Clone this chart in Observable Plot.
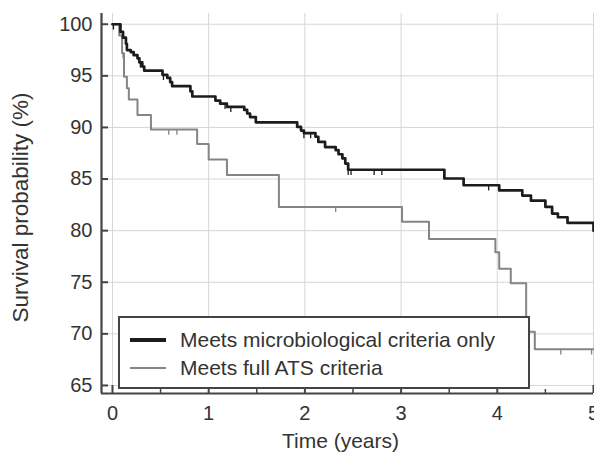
<!DOCTYPE html>
<html>
<head>
<meta charset="utf-8">
<script src="https://cdn.jsdelivr.net/npm/d3@7"></script>
<script src="https://cdn.jsdelivr.net/npm/@observablehq/plot@0.6"></script>
<style>
  body { margin: 0; background: #fff; }
  #wrap { position: relative; width: 594px; height: 457px; overflow: hidden; background: #fff; }
  #legend { position: absolute; left: 118px; top: 316px; width: 408px; height: 69px; border: 2px solid #444;
    background: #fff; font-family: "Liberation Sans", Arial, sans-serif; font-size: 21px; color: #333; }
  .row { position: absolute; left: 0; height: 26px; display: flex; align-items: center; }
  .sw { display: inline-block; width: 36px; margin-left: 10px; margin-right: 14px; }
</style>
</head>
<body>
<div id="wrap"></div>
<script>
// Kaplan–Meier step data (time in years, survival %)
const microTime = [0, 0.083, 0.11, 0.14, 0.15, 0.19, 0.22, 0.26, 0.28, 0.31, 0.33, 0.52, 0.57, 0.60, 0.62, 0.81, 0.83, 1.07, 1.12, 1.19, 1.37, 1.40, 1.43, 1.49, 1.92, 1.96, 1.99, 2.11, 2.14, 2.21, 2.32, 2.35, 2.39, 2.42, 2.45, 3.45, 3.65, 4.02, 4.26, 4.35, 4.50, 4.57, 4.63, 4.73, 5.0];
const microSurv = [100, 99.25, 98.7, 98.1, 97.5, 97.3, 97.0, 96.7, 96.3, 95.9, 95.5, 95.1, 94.8, 94.4, 94.0, 93.5, 93.0, 92.6, 92.3, 92.0, 91.7, 91.35, 91.0, 90.5, 90.05, 89.7, 89.45, 89.1, 88.6, 88.1, 87.8, 87.4, 87.0, 86.5, 85.9, 85.05, 84.4, 83.9, 83.4, 82.9, 82.3, 81.65, 81.3, 80.75, 80.0];
const microCensor = [0.01, 0.29, 0.53, 1.17, 1.23, 1.99, 2.06, 2.45, 2.48, 2.72, 2.80, 3.91];

const atsTime = [0, 0.07, 0.10, 0.12, 0.15, 0.17, 0.26, 0.40, 0.88, 1.00, 1.19, 1.73, 3.01, 3.29, 3.98, 4.02, 4.14, 4.30, 4.33, 4.39, 5.0];
const atsSurv = [100, 98.9, 97.2, 94.9, 93.8, 92.7, 91.2, 89.8, 88.4, 86.9, 85.4, 82.3, 80.85, 79.2, 77.9, 76.3, 74.9, 71.6, 70.2, 68.5, 68.5];
const atsCensor = [0.01, 0.11, 0.585, 0.67, 2.32, 4.66, 4.98];

const seriesNames = ["Meets microbiological criteria only", "Meets full ATS criteria"];
const xTicks = [0, 1, 2, 3, 4, 5];
const xMinorTicks = [0.5, 1.5, 2.5, 3.5, 4.5];
const yTicks = [65, 70, 75, 80, 85, 90, 95, 100];
const xTitle = "Time (years)";
const yTitle = "Survival probability (%)";

const xDomain = [-0.114, 5.0];
const yDomain = [64.22, 101.04];

const microColor = "#1c1c1c";
const atsColor = "#858585";

const micro = microTime.map((t, i) => ({t, s: microSurv[i]}));
const ats = atsTime.map((t, i) => ({t, s: atsSurv[i]}));
function survAt(times, surv, t) {
  const i = d3.bisectRight(times, t) - 1;
  return surv[Math.max(0, i)];
}
const microC = microCensor.map(t => ({t, s: survAt(microTime, microSurv, t)}));
const atsC = atsCensor.map(t => ({t, s: survAt(atsTime, atsSurv, t)}));

const font = "'Liberation Sans', Arial, sans-serif";

const chart = Plot.plot({
  width: 594,
  height: 457,
  marginLeft: 101,
  marginRight: 1,
  marginTop: 13,
  marginBottom: 64,
  style: {fontFamily: font, fontSize: "20px", color: "#333", background: "#fff"},
  x: {domain: xDomain},
  y: {domain: yDomain},
  marks: [
    Plot.gridX(xTicks, {stroke: "#d6d6d6", strokeOpacity: 1, strokeWidth: 1}),
    Plot.gridY(yTicks, {stroke: "#d6d6d6", strokeOpacity: 1, strokeWidth: 1}),
    Plot.axisX(xTicks, {tickSize: -8, tickPadding: 20, stroke: "#444", strokeWidth: 2, fill: "#333", label: null, fontSize: 20}),
    Plot.axisX(xMinorTicks, {tickSize: -4, tickFormat: () => "", stroke: "#444", strokeWidth: 1.5, label: null}),
    Plot.axisY(yTicks, {tickSize: -7, tickPadding: 16, stroke: "#444", strokeWidth: 2, fill: "#333", label: null, fontSize: 20}),
    Plot.ruleX([xDomain[0]], {stroke: "#444", strokeWidth: 2.2}),
    Plot.ruleY([yDomain[0]], {stroke: "#444", strokeWidth: 2.2}),
    Plot.line(ats, {x: "t", y: "s", curve: "step-after", stroke: atsColor, strokeWidth: 2}),
    Plot.ruleX(atsC, {x: "t", y1: "s", y2: d => d.s - 0.55, stroke: atsColor, strokeWidth: 1.3}),
    Plot.line(micro, {x: "t", y: "s", curve: "step-after", stroke: microColor, strokeWidth: 2.7}),
    Plot.ruleX(microC, {x: "t", y1: "s", y2: d => d.s - 0.55, stroke: microColor, strokeWidth: 1.3}),
    Plot.text([xTitle], {frameAnchor: "bottom", textAnchor: "middle", lineAnchor: "middle", dx: -7, dy: 48, fontSize: 21, fill: "#333"}),
    Plot.text([yTitle], {frameAnchor: "left", textAnchor: "middle", lineAnchor: "middle", dx: -81, dy: 4, rotate: -90, fontSize: 22.5, fill: "#333"})
  ]
});

const wrap = document.getElementById("wrap");
wrap.appendChild(chart);

const legend = document.createElement("div");
legend.id = "legend";
const sw = [
  {color: microColor, w: 4},
  {color: atsColor, w: 2}
];
seriesNames.forEach((name, i) => {
  const row = document.createElement("div");
  row.className = "row";
  row.style.top = (i === 0 ? 9 : 37) + "px";
  row.innerHTML = `<svg class="sw" width="36" height="10"><line x1="0" x2="36" y1="5" y2="5" stroke="${sw[i].color}" stroke-width="${sw[i].w}"/></svg><span>${name}</span>`;
  legend.appendChild(row);
});
wrap.appendChild(legend);
</script>
</body>
</html>
